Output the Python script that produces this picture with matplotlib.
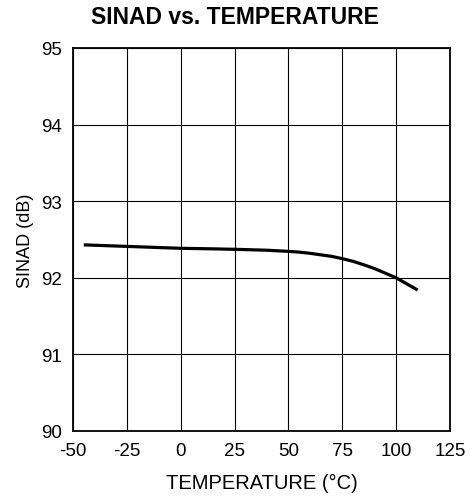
import matplotlib
matplotlib.use("Agg")
import matplotlib.pyplot as plt

plt.rcParams['font.family'] = ['Liberation Sans', 'DejaVu Sans']

# temperature (°C) vs SINAD (dB)
TEMP = [-45, -35, -25, -10, 0, 15, 25, 40, 50, 55, 60, 65, 70, 75, 80, 85, 90, 95, 100, 105, 110]
SINAD = [92.43, 92.42, 92.41, 92.395, 92.385, 92.378, 92.372, 92.36, 92.345, 92.335,
         92.32, 92.30, 92.28, 92.25, 92.215, 92.17, 92.12, 92.06, 92.0, 91.92, 91.84]

X_TICKS = [-50, -25, 0, 25, 50, 75, 100, 125]
Y_TICKS = [90, 91, 92, 93, 94, 95]

fig = plt.figure(figsize=(4.69, 5.02), dpi=100)
ax = fig.add_axes([73 / 469, 1 - 432 / 502, 377 / 469, 383 / 502])

ax.plot(TEMP, SINAD, color='black', linewidth=2.3, solid_capstyle='butt')

ax.set_xlim(-50, 125)
ax.set_ylim(90, 95)
ax.set_xticks(X_TICKS)
ax.set_yticks(Y_TICKS)
ax.set_xticklabels([str(t) for t in X_TICKS])
ax.set_yticklabels([str(t) for t in Y_TICKS])
ax.grid(True, color='black', linewidth=0.8)
ax.tick_params(length=0, labelsize=13.5, pad=8)
for s in ax.spines.values():
    s.set_linewidth(1.3)

ax.set_xlabel('TEMPERATURE (°C)', fontsize=14.5, labelpad=10)
ax.set_ylabel('SINAD (dB)', fontsize=13, labelpad=5)
# title sits centred on the whole figure, not on the axes
fig.text(0.5, 1 - 17 / 502, 'SINAD vs. TEMPERATURE', fontsize=16.5, fontweight='bold',
         ha='center', va='center')

fig.savefig('out.png', dpi=100)
